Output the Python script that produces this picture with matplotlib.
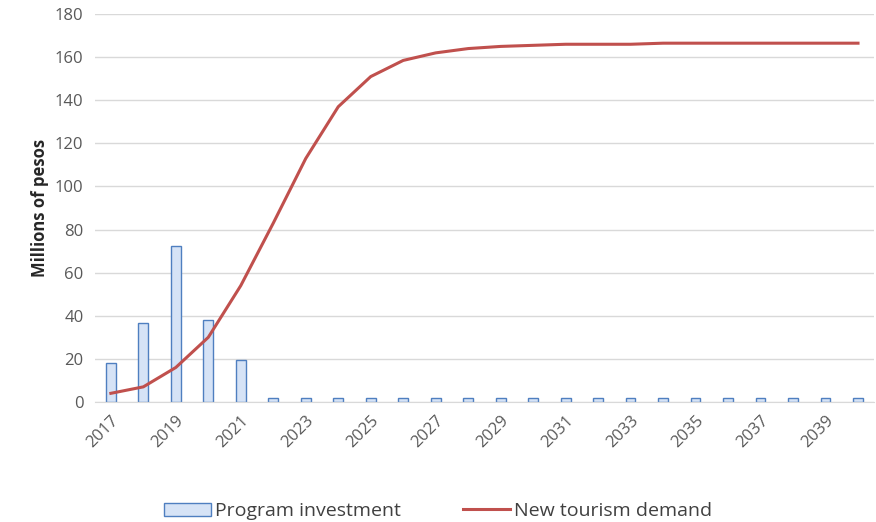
import matplotlib
matplotlib.use("Agg")
import matplotlib.pyplot as plt
import numpy as np

# data
years = list(range(2017, 2041))
investment = [18, 36.5, 72.5, 38, 19.5] + [2] * 19
demand = [4, 7, 16, 30, 54, 83, 113, 137, 151, 158.5, 162, 164, 165, 165.5,
          166, 166, 166, 166.5, 166.5, 166.5, 166.5, 166.5, 166.5, 166.5]

plt.rcParams['font.family'] = ['Open Sans', 'DejaVu Sans']

fig = plt.figure(figsize=(8.76, 5.22), dpi=100)
ax = fig.add_axes([0.108, 0.23, 0.89, 0.743])

x = np.arange(len(years))
bars = ax.bar(x, investment, width=0.3, color='#d6e3f6', edgecolor='#4f7fc0',
              linewidth=1.0, label='Program investment', zorder=2)
line, = ax.plot(x, demand, color='#c0504d', linewidth=2.2,
                label='New tourism demand', zorder=3)

ax.set_ylim(0, 180)
ax.set_yticks(range(0, 181, 20))
ax.set_xlim(-0.5, len(years) - 0.5)
ax.set_xticks(x[::2])
ax.set_xticklabels([str(y) for y in years[::2]], rotation=45, ha='right',
                   rotation_mode='anchor')
ax.grid(axis='y', color='#d9d9d9', linewidth=1, zorder=0)
ax.set_axisbelow(True)
for s in ['top', 'right', 'left']:
    ax.spines[s].set_visible(False)
ax.spines['bottom'].set_color('#d9d9d9')
ax.tick_params(axis='both', length=0, labelsize=12, colors='#595959', pad=8)
ax.set_ylabel('Millions of pesos', fontsize=12, fontweight='bold', color='#262626')

fig.legend([bars, line], ['Program investment', 'New tourism demand'],
           loc='lower center', ncol=2, frameon=False, fontsize=14,
           bbox_to_anchor=(0.5, -0.03), handlelength=2.4, columnspacing=3.2,
           handletextpad=0.2, labelcolor='#404040')

fig.savefig('out.png', dpi=100)
